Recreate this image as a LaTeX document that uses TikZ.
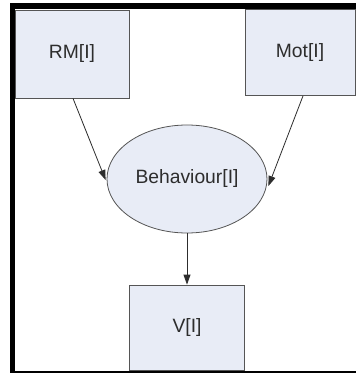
\documentclass[tikz,border=0pt]{standalone}
\usepackage{fontspec}
\setmainfont{Liberation Sans}
\usetikzlibrary{arrows.meta,shapes.geometric}
\definecolor{boxfill}{RGB}{232,236,246}
\definecolor{boxline}{RGB}{85,85,85}
\definecolor{inktext}{RGB}{45,45,45}
\begin{document}
\begin{tikzpicture}[x=1pt,y=-1pt,
  every node/.style={font=\fontsize{19.3}{22}\selectfont, text=inktext},
  varbox/.style={draw=boxline, line width=0.8pt, fill=boxfill, rectangle, inner sep=0pt},
  varoval/.style={draw=boxline, line width=0.8pt, fill=boxfill, ellipse, inner sep=0pt,
                  minimum width=160pt, minimum height=108pt},
  link/.style={draw=inktext, line width=0.8pt, -{Triangle[length=10pt,width=7pt]}}]
  \useasboundingbox (0,0) rectangle (356,374);
  \fill[white] (0,0) rectangle (356,374);

  % variable boxes
  \node[varbox, minimum width=114pt, minimum height=88pt] (rm) at (72,54) {RM[I]};
  \node[varbox, minimum width=110pt, minimum height=86pt] (mot) at (300,52.5) {Mot[I]};
  \node[varbox, minimum width=115pt, minimum height=85pt] (v) at (187,327.5) {V[I]};
  \node[varoval] (beh) at (187,179) {Behaviour[I]};

  % influences
  \draw[link] ([xshift=1pt]rm.south) -- ([xshift=-1pt,yshift=-1pt]beh.west);
  \draw[link] ([xshift=3pt]mot.south) -- ([xshift=1pt,yshift=-7pt]beh.east);
  \draw[link] (beh.south) -- (v.north);

  % black frame
  \fill[black] (10,3.5) rectangle (356,9);
  \fill[black] (10,3.5) rectangle (15,373);
  \fill[black] (10,370.5) rectangle (356,373);
\end{tikzpicture}
\end{document}
